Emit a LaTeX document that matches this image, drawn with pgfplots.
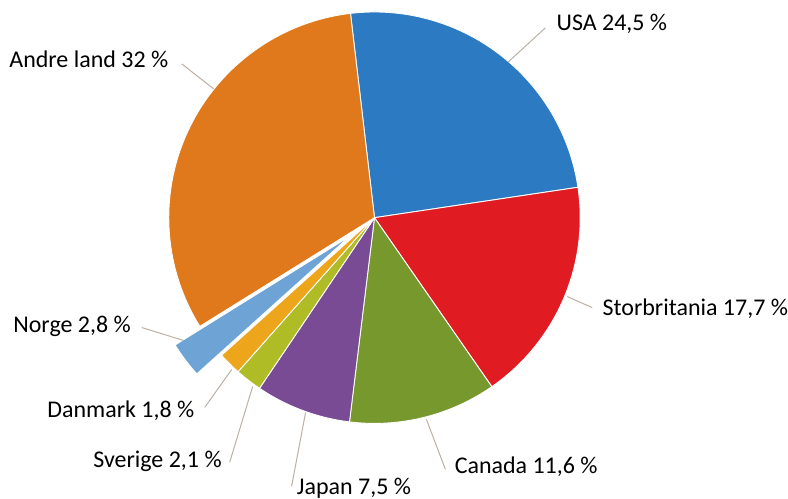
\documentclass[border=0pt]{standalone}
\usepackage{pgfplots}
\pgfplotsset{compat=1.18}
\usepackage{fontspec}
\setmainfont{Carlito}
\definecolor{cUSA}{HTML}{2C7BC2}
\definecolor{cGB}{HTML}{E11B22}
\definecolor{cCA}{HTML}{77982D}
\definecolor{cJP}{HTML}{784B94}
\definecolor{cSE}{HTML}{AFBC25}
\definecolor{cDK}{HTML}{EDA51B}
\definecolor{cNO}{HTML}{6EA3D6}
\definecolor{cAL}{HTML}{E0791C}
\definecolor{leader}{HTML}{BCB0A4}
\tikzset{lbl/.style={anchor=base west, font=\fontsize{12}{14}\selectfont, text=black, inner sep=0pt}}
\newcommand\cumangle{96.7}
\newcommand\pieslice[3]{%
 \pgfmathsetmacro\angA{\cumangle}%
 \pgfmathsetmacro\angB{\cumangle-3.6*#1}%
 \pgfmathsetmacro\midang{(\angA+\angB)/2}%
 \pgfmathsetmacro\ox{375+#3*cos(\midang)}%
 \pgfmathsetmacro\oy{279+#3*sin(\midang)}%
 \edef\temp{\noexpand\addplot[fill=#2, draw=white, line width=0.45pt, line join=round, domain=\angB:\angA, samples=80] ({\ox+206*cos(x)},{\oy+206*sin(x)}) -- (axis cs:\ox,\oy) -- cycle;}%
 \temp
 \xdef\cumangle{\angB}%
}
\begin{document}
\begin{tikzpicture}
\begin{axis}[
  x=0.5pt, y=0.5pt,
  xmin=0, xmax=788, ymin=0, ymax=497,
  hide axis, clip=false,
]
\path (axis cs:0,0) rectangle (axis cs:788,497);
% values in percent: value, colour, explode distance
\pieslice{24.5}{cUSA}{0}
\pieslice{17.7}{cGB}{0}
\pieslice{11.6}{cCA}{0}
\pieslice{7.5}{cJP}{0}
\pieslice{2.1}{cSE}{0}
\pieslice{1.8}{cDK}{0}
\pieslice{2.8}{cNO}{31}
\pieslice{32}{cAL}{0}
% leader lines
\addplot[leader, line width=0.5pt] coordinates {(509,435) (546,469)};
\addplot[leader, line width=0.5pt] coordinates {(182,433) (214,408)};
\addplot[leader, line width=0.5pt] coordinates {(142,169) (184,156)};
\addplot[leader, line width=0.5pt] coordinates {(205,89) (232,127)};
\addplot[leader, line width=0.5pt] coordinates {(230,34) (253,110)};
\addplot[leader, line width=0.5pt] coordinates {(292,10) (306,84)};
\addplot[leader, line width=0.5pt] coordinates {(568,200) (593,189)};
\addplot[leader, line width=0.5pt] coordinates {(427,77) (446,27)};
% labels
\node[lbl] at (axis cs:557,466) {USA 24,5 \%};
\node[lbl] at (axis cs:9,429) {Andre land 32 \%};
\node[lbl] at (axis cs:13,164) {Norge 2,8 \%};
\node[lbl] at (axis cs:47,79) {Danmark 1,8 \%};
\node[lbl] at (axis cs:93,29) {Sverige 2,1 \%};
\node[lbl] at (axis cs:297,2) {Japan 7,5 \%};
\node[lbl] at (axis cs:603,181) {Storbritania 17,7 \%};
\node[lbl] at (axis cs:455,23) {Canada 11,6 \%};
\end{axis}
\end{tikzpicture}
\end{document}
